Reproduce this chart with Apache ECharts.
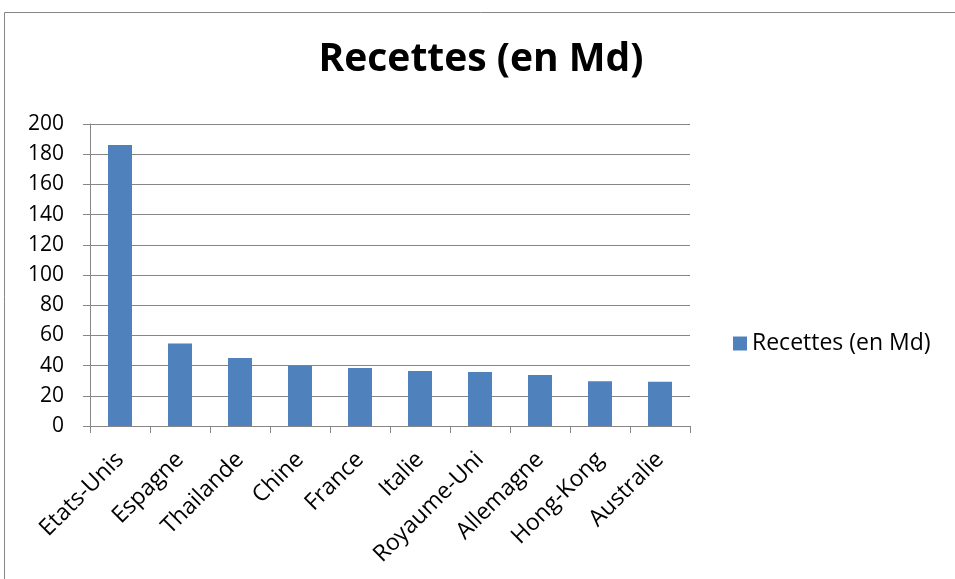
<!DOCTYPE html>
<html>
<head>
<meta charset="utf-8">
<script src="https://cdn.jsdelivr.net/npm/echarts@6/dist/echarts.min.js"></script>
<style>
  html, body { margin: 0; padding: 0; background: #fff; }
  #chart { width: 955px; height: 579px; }
</style>
</head>
<body>
<div id="chart"></div>
<script>
// données
const categories = ['Etats-Unis', 'Espagne', 'Thailande', 'Chine', 'France', 'Italie', 'Royaume-Uni', 'Allemagne', 'Hong-Kong', 'Australie'];
const recettes = [186.1, 54.7, 45.1, 40.1, 38.4, 36.4, 35.8, 33.8, 29.7, 29.3];
const seriesName = 'Recettes (en Md)';

const font = 'Open Sans';
const chart = echarts.init(document.getElementById('chart'));

const option = {
  animation: false,
  textStyle: { fontFamily: font },
  graphic: [{
    type: 'rect',
    shape: { x: 4.5, y: 12.5, width: 1000, height: 1000 },
    style: { fill: 'none', stroke: '#868686', lineWidth: 1 },
    silent: true
  }],
  title: {
    text: seriesName,
    left: 476,
    textAlign: 'center',
    top: 35,
    textStyle: { fontFamily: font, fontSize: 39, fontWeight: 'bold', color: '#000' }
  },
  legend: {
    orient: 'vertical',
    left: 728,
    top: 327,
    itemWidth: 14,
    itemHeight: 14,
    icon: 'rect',
    itemGap: 6,
    textStyle: { fontFamily: font, fontSize: 23, color: '#000' },
    data: [seriesName]
  },
  grid: { left: 90, right: 265, top: 124, bottom: 153, containLabel: false },
  xAxis: {
    type: 'category',
    data: categories,
    axisLine: { lineStyle: { color: '#868686', width: 1 } },
    axisTick: { show: true, alignWithLabel: false, length: 7, lineStyle: { color: '#868686' } },
    axisLabel: { rotate: 45, interval: 0, fontFamily: font, fontSize: 23, color: '#000', margin: 30 }
  },
  yAxis: {
    type: 'value',
    min: 0,
    max: 200,
    interval: 20,
    axisLine: { show: true, lineStyle: { color: '#868686', width: 1 } },
    axisTick: { show: true, length: 7, lineStyle: { color: '#868686' } },
    axisLabel: { fontFamily: font, fontSize: 21, color: '#000', margin: 26 },
    splitLine: { lineStyle: { color: '#868686', width: 1 } }
  },
  series: [{
    name: seriesName,
    type: 'bar',
    data: recettes,
    barWidth: 24,
    itemStyle: { color: '#4F81BD' }
  }]
};
chart.setOption(option);
</script>
</body>
</html>
